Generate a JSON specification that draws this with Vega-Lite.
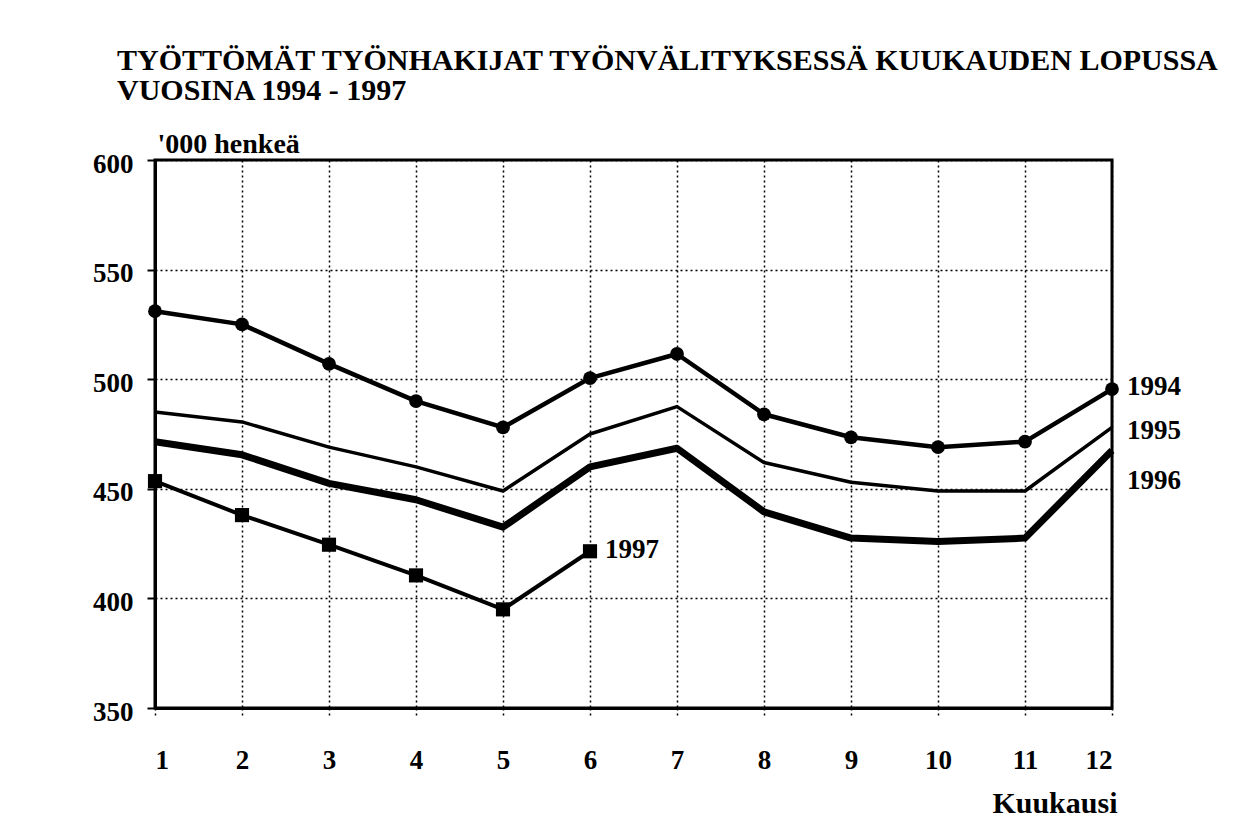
{
  "$schema": "https://vega.github.io/schema/vega-lite/v6.json",
  "autosize": {"type": "none"},
  "width": 957,
  "height": 548,
  "padding": {"left": 155, "top": 160, "right": 140, "bottom": 110},
  "background": "white",
  "title": {
    "text": ["TYÖTTÖMÄT TYÖNHAKIJAT TYÖNVÄLITYKSESSÄ KUUKAUDEN LOPUSSA", "VUOSINA 1994 - 1997"],
    "anchor": "start",
    "frame": "group",
    "dx": -38,
    "offset": 24,
    "font": "Liberation Serif",
    "fontSize": 30,
    "fontWeight": "bold",
    "lineHeight": 30,
    "color": "black"
  },
  "datasets": {
    "series": [
      {"year": "1994", "month": 1, "value": 531},
      {"year": "1994", "month": 2, "value": 525},
      {"year": "1994", "month": 3, "value": 507},
      {"year": "1994", "month": 4, "value": 490},
      {"year": "1994", "month": 5, "value": 478},
      {"year": "1994", "month": 6, "value": 500.5},
      {"year": "1994", "month": 7, "value": 511.5},
      {"year": "1994", "month": 8, "value": 484},
      {"year": "1994", "month": 9, "value": 473.5},
      {"year": "1994", "month": 10, "value": 469},
      {"year": "1994", "month": 11, "value": 471.5},
      {"year": "1994", "month": 12, "value": 495.5},
      {"year": "1995", "month": 1, "value": 485},
      {"year": "1995", "month": 2, "value": 480.5},
      {"year": "1995", "month": 3, "value": 469},
      {"year": "1995", "month": 4, "value": 460},
      {"year": "1995", "month": 5, "value": 449},
      {"year": "1995", "month": 6, "value": 475},
      {"year": "1995", "month": 7, "value": 487.5},
      {"year": "1995", "month": 8, "value": 462},
      {"year": "1995", "month": 9, "value": 453},
      {"year": "1995", "month": 10, "value": 449},
      {"year": "1995", "month": 11, "value": 449},
      {"year": "1995", "month": 12, "value": 478},
      {"year": "1996", "month": 1, "value": 471.5},
      {"year": "1996", "month": 2, "value": 465.5},
      {"year": "1996", "month": 3, "value": 452.5},
      {"year": "1996", "month": 4, "value": 445},
      {"year": "1996", "month": 5, "value": 432.5},
      {"year": "1996", "month": 6, "value": 460},
      {"year": "1996", "month": 7, "value": 468.5},
      {"year": "1996", "month": 8, "value": 439.5},
      {"year": "1996", "month": 9, "value": 427.5},
      {"year": "1996", "month": 10, "value": 426},
      {"year": "1996", "month": 11, "value": 427.5},
      {"year": "1996", "month": 12, "value": 467.5},
      {"year": "1997", "month": 1, "value": 453.5},
      {"year": "1997", "month": 2, "value": 438},
      {"year": "1997", "month": 3, "value": 424.5},
      {"year": "1997", "month": 4, "value": 410.5},
      {"year": "1997", "month": 5, "value": 395},
      {"year": "1997", "month": 6, "value": 421.5}
    ],
    "labels": [
      {"label": "1994", "month": 12, "value": 496.5},
      {"label": "1995", "month": 12, "value": 476.5},
      {"label": "1996", "month": 12, "value": 453.5},
      {"label": "1997", "month": 6, "value": 422}
    ]
  },
  "config": {
    "view": {"stroke": "black", "strokeWidth": 3},
    "axis": {
      "labelFont": "Liberation Serif",
      "labelFontWeight": "bold",
      "labelFontSize": 27,
      "labelColor": "black",
      "titleFont": "Liberation Serif",
      "titleFontWeight": "bold",
      "titleColor": "black",
      "domainColor": "black",
      "domainWidth": 3,
      "tickColor": "black",
      "gridColor": "black",
      "gridWidth": 1.5,
      "gridDash": [2, 3],
      "gridOpacity": 1
    }
  },
  "encoding": {
    "x": {
      "field": "month", "type": "quantitative",
      "scale": {"domain": [1, 12], "nice": false, "zero": false},
      "axis": {
        "values": [1, 2, 3, 4, 5, 6, 7, 8, 9, 10, 11, 12],
        "format": "d",
        "tickSize": 10,
        "tickWidth": 1.5,
        "tickDash": [2, 3],
        "labelBaseline": "middle",
        "labelPadding": 42,
        "title": "Kuukausi",
        "titleFontSize": 30,
        "titleAnchor": "end",
        "titleAlign": "right",
        "titleBaseline": "alphabetic",
        "titleX": 962,
        "titleY": 104
      }
    },
    "y": {
      "field": "value", "type": "quantitative",
      "scale": {"domain": [350, 600], "nice": false, "zero": false},
      "axis": {
        "values": [350, 400, 450, 500, 550, 600],
        "tickSize": 8,
        "tickWidth": 2,
        "labelPadding": 14,
        "labelOffset": 4,
        "title": "'000 henkeä",
        "titleFontSize": 28,
        "titleAngle": 0,
        "titleAlign": "left",
        "titleBaseline": "alphabetic",
        "titleX": 2,
        "titleY": -8
      }
    }
  },
  "layer": [
    {
      "data": {"name": "series"},
      "transform": [{"filter": "datum.year === '1995'"}],
      "mark": {"type": "line", "color": "black", "strokeWidth": 3.5, "strokeJoin": "round"}
    },
    {
      "data": {"name": "series"},
      "transform": [{"filter": "datum.year === '1996'"}],
      "mark": {"type": "line", "color": "black", "strokeWidth": 7, "strokeJoin": "round"}
    },
    {
      "data": {"name": "series"},
      "transform": [{"filter": "datum.year === '1994'"}],
      "mark": {"type": "line", "color": "black", "strokeWidth": 4.5, "strokeJoin": "round"}
    },
    {
      "data": {"name": "series"},
      "transform": [{"filter": "datum.year === '1997'"}],
      "mark": {"type": "line", "color": "black", "strokeWidth": 4, "strokeJoin": "round"}
    },
    {
      "data": {"name": "series"},
      "transform": [{"filter": "datum.year === '1994'"}],
      "mark": {"type": "point", "shape": "circle", "filled": true, "color": "black", "opacity": 1, "size": 190}
    },
    {
      "data": {"name": "series"},
      "transform": [{"filter": "datum.year === '1997'"}],
      "mark": {"type": "point", "shape": "square", "filled": true, "color": "black", "opacity": 1, "size": 200}
    },
    {
      "data": {"name": "labels"},
      "mark": {"type": "text", "align": "left", "baseline": "middle", "dx": 15, "font": "Liberation Serif", "fontWeight": "bold", "fontSize": 27, "color": "black"},
      "encoding": {
        "text": {"field": "label", "type": "nominal"}
      }
    }
  ]
}
